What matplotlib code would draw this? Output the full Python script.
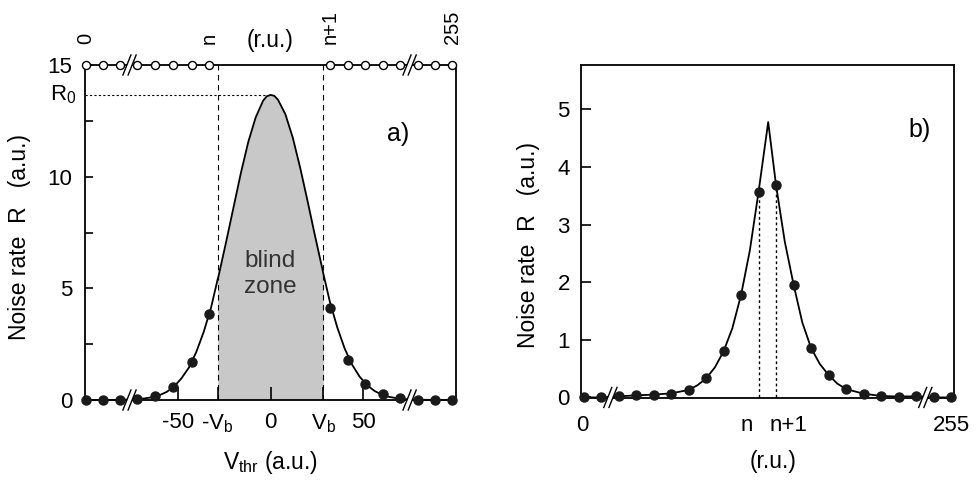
import matplotlib
matplotlib.use("Agg")
import matplotlib.pyplot as plt
import numpy as np
from matplotlib.lines import Line2D
from matplotlib.patches import Polygon
from matplotlib.transforms import IdentityTransform, blended_transform_factory

plt.rcParams['font.family'] = ['Liberation Sans', 'DejaVu Sans']
plt.rcParams['mathtext.fontset'] = 'custom'
plt.rcParams['mathtext.rm'] = 'Liberation Sans'
plt.rcParams['mathtext.it'] = 'Liberation Sans:italic'
plt.rcParams['font.size'] = 16.5

# ---- panel a data (V_thr in a.u., rate in a.u.)
a_pts_x = [-99.5, -90.5, -81, -72, -62, -52.5, -42.5, -33,
           32, 42, 51, 60.5, 70, 79.5, 88.5, 98]
a_pts_y = [0, 0, 0, 0.05, 0.17, 0.58, 1.68, 3.85,
           4.1, 1.78, 0.7, 0.25, 0.07, 0, 0, 0]
a_curve_x = [-100, -80, -72, -68, -64, -60, -56, -52, -48, -44, -40, -36, -32,
             -28.5, -28, -24, -20, -16, -12, -8, -4, -2, 0, 2, 4, 8, 12, 16, 20, 24,
             28, 28.5, 32, 36, 40, 44, 48, 52, 56, 60, 64, 68, 72, 80, 100]
a_curve_y = [0, 0.01, 0.04, 0.07, 0.12, 0.21, 0.36, 0.6, 0.97, 1.45, 2.15, 3.05, 4.15,
             5.4, 5.55, 7.05, 8.6, 10.15, 11.55, 12.65, 13.4, 13.6, 13.66, 13.62, 13.45,
             12.8, 11.75, 10.4, 8.9, 7.35, 5.85, 5.65, 4.4, 3.25, 2.3, 1.58, 1.05, 0.67,
             0.41, 0.24, 0.14, 0.08, 0.04, 0.01, 0]
vb = 28.5
r0 = 13.66
top_value = 15
a_top_labels = ['0', 'n', 'n+1', '255']
a_top_label_x = [-99.5, -33, 32, 98]
a_xticks = [-50, -vb, 0, vb, 50]
a_xticklabels = ['-50', r'-V$_\mathregular{b}$', '0', r'V$_\mathregular{b}$', '50']

# ---- panel b data (index in r.u., rate in a.u.)
b_pts_x = list(range(22))
b_pts_y = [0, 0, 0.02, 0.035, 0.05, 0.065, 0.13, 0.33, 0.8, 1.78, 3.57,
           3.68, 1.96, 0.86, 0.39, 0.145, 0.065, 0.025, 0.015, 0.02, 0, 0]
b_curve_x = [0, 1, 2, 3, 4, 5, 6, 6.5, 7, 7.5, 8, 8.5, 9, 9.5, 10, 10.55,
             11, 11.5, 12, 12.5, 13, 13.5, 14, 14.5, 15, 16, 17, 18, 19, 20, 21]
b_curve_y = [0, 0, 0.02, 0.035, 0.05, 0.07, 0.13, 0.21, 0.33, 0.52, 0.8, 1.2, 1.78,
             2.55, 3.57, 4.78, 3.68, 2.7, 1.96, 1.3, 0.86, 0.58, 0.39, 0.24, 0.145,
             0.065, 0.025, 0.015, 0.02, 0, 0]
b_n = 10
b_labels = ['0', 'n', 'n+1', '255']
b_label_x = [-0.1, 9.35, 11.7, 21.05]

ylabel_text = 'Noise rate  R   (a.u.)'
tick_fs = 16


def draw_break(ax, x, y):
    cx, cy = ax.transData.transform((x, y))
    h, s, g = 10, 4, 2.6
    poly = Polygon([(cx - g - s, cy - h), (cx + g - s, cy - h),
                    (cx + g + s, cy + h), (cx - g + s, cy + h)],
                   closed=True, facecolor='white', edgecolor='none',
                   transform=IdentityTransform(), zorder=10)
    ax.figure.add_artist(poly)
    for d in (-g, g):
        ax.figure.add_artist(Line2D([cx + d - s, cx + d + s], [cy - h, cy + h],
                                    color='black', lw=1.0,
                                    transform=IdentityTransform(), zorder=11))


fig = plt.figure(figsize=(9.77, 4.8), dpi=100)

# ================= panel a
ax = fig.add_axes([85 / 977, 80 / 480, 371 / 977, 335 / 480])
ax.set_xlim(-100, 100)
ax.set_ylim(0, 15)
for sp in ax.spines.values():
    sp.set_linewidth(1.3)

a_curve_x = np.array(a_curve_x)
a_curve_y = np.array(a_curve_y)
ax.fill_between(a_curve_x, a_curve_y, where=np.abs(a_curve_x) <= vb,
                color='#c8c8c8', lw=0, zorder=1)
ax.plot(a_curve_x, a_curve_y, color='black', lw=1.3, zorder=3, clip_on=False)
ax.plot(a_pts_x, a_pts_y, 'o', color='#1a1a1a', ms=6.5, zorder=4, clip_on=False)
ax.plot(a_pts_x, [top_value] * len(a_pts_x), 'o', mfc='white', mec='black',
        mew=1.0, ms=5.8, zorder=4, clip_on=False)

for xv in (-vb, vb):
    ax.plot([xv, xv], [0, 15], color='black', lw=0.8, ls=(0, (5, 4)), zorder=2)
ax.plot([-100, 0], [r0, r0], color='black', lw=0.8, ls=(0, (2, 2)), zorder=2)

ax.set_xticks(a_xticks)
ax.set_xticklabels(a_xticklabels)
ax.set_yticks([0, 5, 10, 15])
ax.set_yticks([2.5, 7.5, 12.5], minor=True)
ax.tick_params(axis='x', direction='in', length=9.5, width=1.2, pad=9,
               labelsize=tick_fs)
ax.tick_params(axis='y', which='both', direction='in', length=6, width=1.2, pad=9,
               labelsize=tick_fs)

ytrans = blended_transform_factory(ax.transAxes, ax.transData)
ax.text(-0.022, r0, r'R$_\mathregular{0}$', transform=ytrans, ha='right',
        va='center', fontsize=tick_fs)

xtrans = blended_transform_factory(ax.transData, ax.transAxes)
for lab, xv in zip(a_top_labels, a_top_label_x):
    ax.text(xv, 1.063, lab, transform=xtrans, rotation=90, ha='center',
            va='bottom', fontsize=14.5)
ax.text(0, 1.072, '(r.u.)', transform=xtrans, ha='center', va='center')

ax.text(0, 5.65, 'blind\nzone', ha='center', va='center', color='#333333',
        fontsize=17.5, linespacing=1.2, zorder=5)
ax.text(69, 11.9, 'a)', ha='center', va='center', fontsize=18)
ax.set_xlabel(r'V$_\mathregular{thr}$ (a.u.)', labelpad=10)
fig.text(20 / 977, 1 - 237 / 480, ylabel_text, rotation=90,
         ha='center', va='center')

# ================= panel b
bx = fig.add_axes([581 / 977, 82 / 480, 373 / 977, 333 / 480])
bx.set_xlim(-0.15, 21.17)
bx.set_ylim(-0.01, 5.77)
for sp in bx.spines.values():
    sp.set_linewidth(1.3)

bx.plot(b_curve_x, b_curve_y, color='black', lw=1.3, zorder=3, clip_on=False)
bx.plot(b_pts_x, b_pts_y, 'o', color='#1a1a1a', ms=6.5, zorder=4, clip_on=False)
for i in (b_n, b_n + 1):
    bx.plot([i, i], [0, b_pts_y[i]], color='black', lw=1.0, ls=(0, (2, 2)), zorder=2)

bx.set_xticks([])
bx.set_yticks([0, 1, 2, 3, 4, 5])
bx.tick_params(axis='y', direction='in', length=7, width=1.2, pad=8,
               labelsize=tick_fs)

btrans = blended_transform_factory(bx.transData, bx.transAxes)
for lab, xv in zip(b_labels, b_label_x):
    bx.text(xv, -0.052, lab, transform=btrans, ha='center', va='top', fontsize=tick_fs)
bx.text(10.8, -0.19, '(r.u.)', transform=btrans, ha='center', va='center')
bx.text(19.2, 4.64, 'b)', ha='center', va='center', fontsize=18)
fig.text(528 / 977, 1 - 245 / 480, ylabel_text, rotation=90,
         ha='center', va='center')

# axis breaks
for xv in (-76, 75):
    draw_break(ax, xv, 0)
    draw_break(ax, xv, top_value)
for xv in (1.53, 19.53):
    draw_break(bx, xv, 0)

fig.savefig('out.png', dpi=100)
